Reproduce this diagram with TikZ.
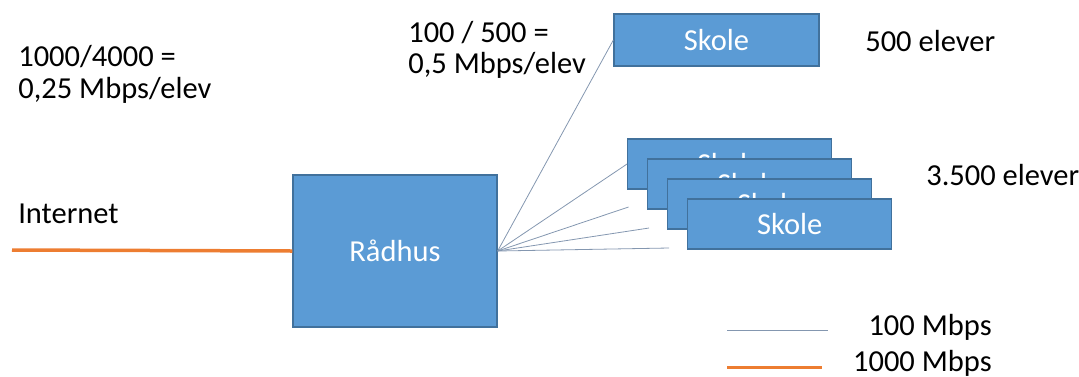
\documentclass[tikz,border=0pt]{standalone}
\usepackage{fontspec}
\setmainfont{Carlito}
\usepackage{tikz}
\usetikzlibrary{positioning,calc}

\definecolor{boxblue}{HTML}{5B9BD5}
\definecolor{boxedge}{HTML}{41719C}
\definecolor{thinline}{HTML}{8497B0}
\definecolor{fatline}{HTML}{ED7D31}

\begin{document}
\begin{tikzpicture}[x=1pt, y=-1pt, semithick]
\tikzstyle{box}=[fill=boxblue,draw=boxedge,line width=1.3pt,text=white,inner sep=0pt]
\tikzstyle{skolebox}=[box,minimum width=204pt,minimum height=50pt]
\tikzstyle{txt}=[anchor=base west,inner sep=0pt,align=left]
\tikzstyle{link100}=[draw=thinline,line width=0.8pt]
\tikzstyle{link1000}=[draw=fatline,line width=3.5pt]
\useasboundingbox (0,0) rectangle (1079,376);
\fontsize{30.5}{31.5}\selectfont
\node[box,minimum width=204pt,minimum height=152pt] (raadhus) at (395,251) {Rådhus};
\node[skolebox,minimum width=205pt,minimum height=52pt] (skole) at (716.5,40) {Skole};
\node[skolebox] (s1) at (729.7,164) {Skole};
\node[skolebox] (s2) at (749.7,184) {Skole};
\node[skolebox] (s3) at (769.7,204) {Skole};
\node[skolebox] (s4) at (789.7,224) {Skole};
\coordinate (inet) at (12,250);
\coordinate (c2) at (628.5,207);
\coordinate (c3) at (649,228);
\coordinate (c4) at (669,248);
% two-line texts: base is the last line
\node[txt] (ratio1) at (18,98) {1000/4000 =\\0,25 Mbps/elev};
\node[txt] (ratio2) at (408,73.5) {100 / 500 =\\0,5 Mbps/elev};
\node[txt] (inettxt) at (18,223) {Internet};
\node[txt] (n500) at (865,51.5) {500 elever};
\node[txt] (n3500) at (926,185.5) {3.500 elever};
\coordinate (l1a) at (727,330);
\coordinate (l1b) at (828,330);
\coordinate (l2a) at (727,367.5);
\coordinate (l2b) at (822,367.5);
\node[anchor=base east,inner sep=0pt] (leg100) at (992,335) {100 Mbps};
\node[anchor=base east,inner sep=0pt] (leg1000) at (992,371.5) {1000 Mbps};
\path
(inet)          edge[link1000]  (raadhus.west)
(raadhus.east)  edge[link100]   (skole.west)
(raadhus.east)  edge[link100]   (s1.west)
(raadhus.east)  edge[link100]   (c2)
(raadhus.east)  edge[link100]   (c3)
(raadhus.east)  edge[link100]   (c4)
(l1a)           edge[link100]   (l1b)
(l2a)           edge[link1000]  (l2b);
\end{tikzpicture}
\end{document}
